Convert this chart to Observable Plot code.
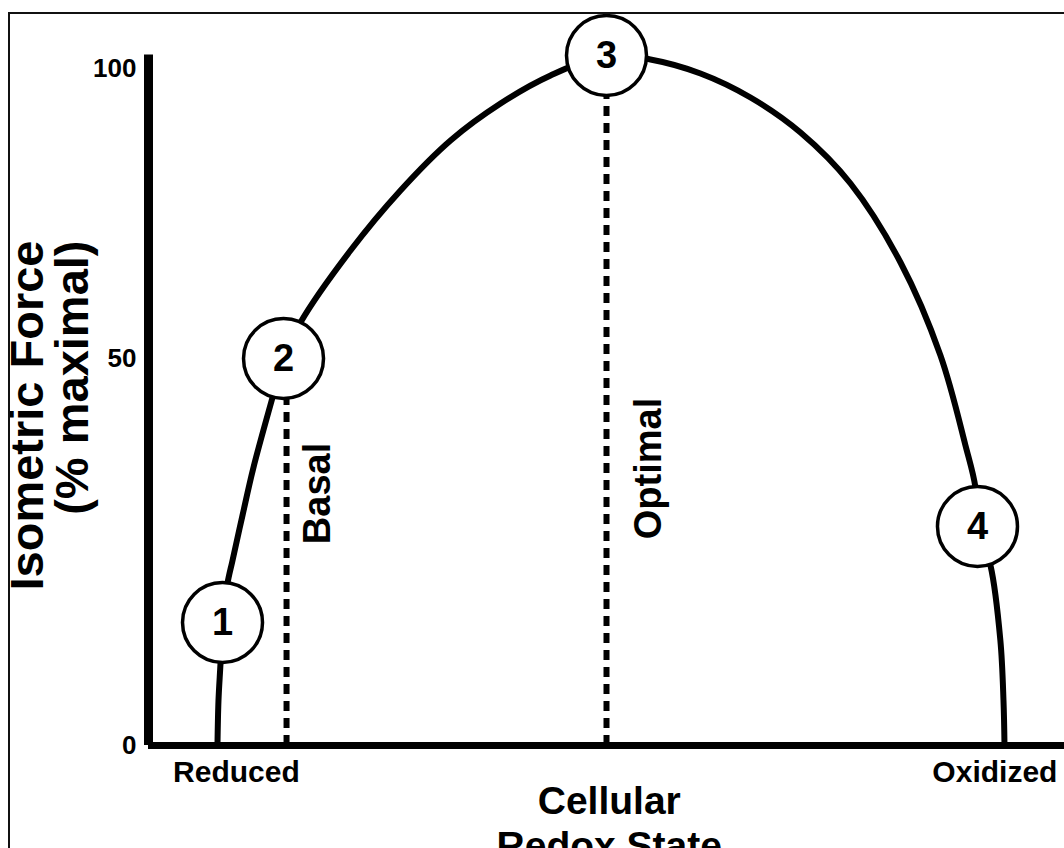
<!DOCTYPE html>
<html>
<head>
<meta charset="utf-8">
<script src="https://cdn.jsdelivr.net/npm/d3@7"></script>
<script src="https://cdn.jsdelivr.net/npm/@observablehq/plot@0.6"></script>
<style>
  html, body { margin: 0; padding: 0; background: #fff; overflow: hidden; }
  #wrap { position: relative; width: 1064px; height: 848px; }
  #border { position: absolute; left: 8px; top: 12px; width: 2000px; height: 2000px;
            border-left: 2px solid #111; border-top: 2px solid #111; pointer-events: none; }
  #chart { position: absolute; left: 0; top: 0; }
</style>
</head>
<body>
<div id="wrap"><div id="chart"></div><div id="border"></div></div>
<script>
// ---- data ----
const xTickValues = [9.6, 92.4];
const xTickLabels = ["Reduced", "Oxidized"];
const yTickValues = [0, 50, 100];
const yTickLabels = ["0", "50", "100"];

// force vs redox curve (schematic)
const curveX = [7.53, 7.64, 7.86, 8.08, 8.62, 9.17, 10.26, 11.46, 13.54, 14.74, 16.59, 22.05, 27.51, 32.97, 38.43, 43.89, 50.0, 54.8, 60.26, 65.72, 71.18, 76.64, 82.1, 86.46, 89.19, 90.28, 90.5, 91.92, 93.0, 93.34, 93.45];
const curveY = [0, 3.47, 7.31, 12.08, 17.0, 20.03, 26.24, 33.19, 43.84, 50.0, 55.83, 67.84, 78.18, 87.0, 93.63, 98.72, 102.39, 101.65, 99.09, 94.72, 88.42, 79.4, 65.81, 50.49, 36.48, 30.26, 24.7, 19.37, 9.93, 3.47, 0];

// numbered states
const pointLabels = ["1", "2", "3", "4"];
const pointX = [8.08, 14.74, 50.0, 90.5];
const pointY = [12.08, 50.0, 102.39, 24.7];

// dashed guides
const guideNames = ["Basal", "Optimal"];
const guideX = [15.07, 50.0];
const guideTop = [50.0, 102.39];
const guideLabelX = [18.45, 54.6];
const guideLabelY = [29.39, 33.04];

const yAxisTop = 102.48;
const xTitle = "Cellular\nRedox State";
const xTitleAt = 50.3;
const yTitle = "Isometric Force\n(% maximal)";

// ---- build tables ----
const curve = curveX.map((x, i) => ({x, y: curveY[i]}));
const points = pointLabels.map((t, i) => ({t, x: pointX[i], y: pointY[i]}));
const guides = guideNames.map((t, i) => ({t, x: guideX[i], top: guideTop[i], lx: guideLabelX[i], ly: guideLabelY[i]}));

const chart = Plot.plot({
  width: 1064,
  height: 848,
  marginLeft: 148,
  marginRight: 0,
  marginTop: 68,
  marginBottom: 103,
  style: {fontFamily: "'Liberation Sans', Arial, Helvetica, sans-serif", fontWeight: "bold", color: "#000", background: "transparent", overflow: "visible"},
  x: {domain: [0, 100]},
  y: {type: "pow", exponent: 0.807, domain: [0, 100]},
  marks: [
    Plot.axisY({ticks: yTickValues, tickFormat: d => yTickLabels[yTickValues.indexOf(d)], tickSize: 0, tickPadding: 12, fontSize: 26, label: null}),
    Plot.axisX({ticks: xTickValues, tickFormat: d => xTickLabels[xTickValues.indexOf(d)], tickSize: 0, tickPadding: 15, fontSize: 30, label: null}),
    Plot.ruleX(guides, {x: "x", y1: 0, y2: "top", stroke: "#000", strokeWidth: 6, strokeDasharray: "10,7"}),
    Plot.line(curve, {x: "x", y: "y", curve: "catmull-rom", stroke: "#000", strokeWidth: 6}),
    Plot.ruleY([0], {x1: 0, x2: 100, stroke: "#000", strokeWidth: 7}),
    Plot.ruleX([0], {y1: 0, y2: yAxisTop, stroke: "#000", strokeWidth: 9}),
    Plot.dot(points, {x: "x", y: "y", r: 40, fill: "#fff", stroke: "#000", strokeWidth: 3.5}),
    Plot.text(points, {x: "x", y: "y", text: "t", fontSize: 38, fill: "#000"}),
    Plot.text(guides, {x: "lx", y: "ly", text: "t", rotate: -90, fontSize: 38, fill: "#000"}),
    Plot.text([xTitle], {x: () => xTitleAt, frameAnchor: "bottom", lineAnchor: "top", dy: 37, fontSize: 39, lineHeight: 1.15, fill: "#000"}),
    Plot.text([yTitle], {frameAnchor: "top-left", rotate: -90, textAnchor: "end", lineAnchor: "middle", dx: -97, dy: 172, fontSize: 47, lineHeight: 0.95, fill: "#000"})
  ]
});
document.getElementById("chart").appendChild(chart);
</script>
</body>
</html>
